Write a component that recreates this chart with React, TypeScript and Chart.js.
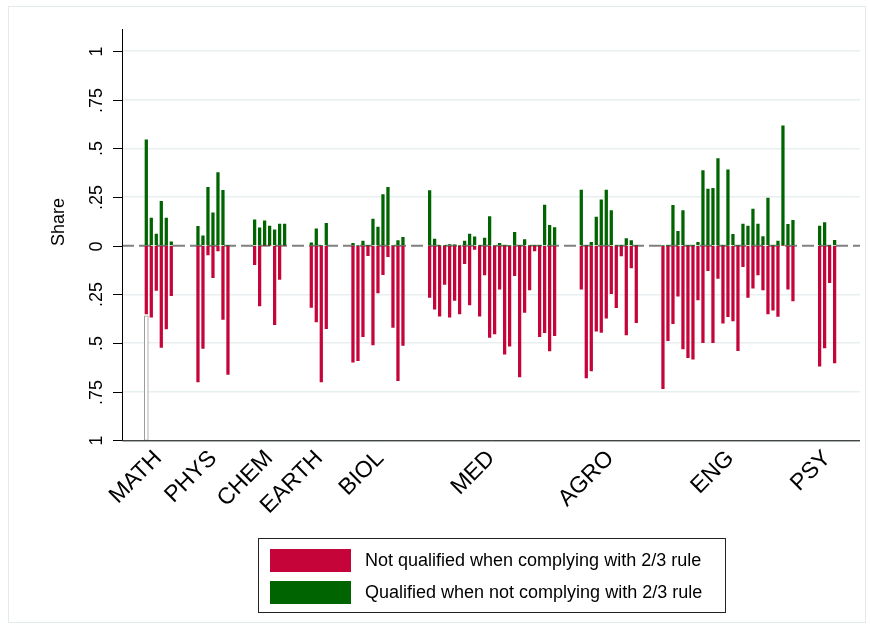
import React, { useEffect, useRef } from "react";
import { Chart, registerables } from "chart.js";

Chart.register(...registerables);

// ---- Data ----
const fields = ["MATH", "PHYS", "CHEM", "EARTH", "BIOL", "MED", "AGRO", "ENG", "PSY"];

// Share qualified when NOT complying with 2/3 rule (plotted upward)
const qualifiedMATH = [0.543, 0.142, 0.06, 0.228, 0.142, 0.019];
const qualifiedPHYS = [0.099, 0.051, 0.3, 0.168, 0.375, 0.284, 0];
const qualifiedCHEM = [0.132, 0.091, 0.127, 0.101, 0.081, 0.111, 0.111];
const qualifiedEARTH = [0.015, 0.086, 0, 0.115];
const qualifiedBIOL = [0.012, 0, 0.024, 0, 0.137, 0.096, 0.262, 0.3, 0, 0.026, 0.043];
const qualifiedMED = [
  0.283, 0.034, 0, 0, 0.005, 0.003, 0, 0.024, 0.06, 0.045, 0, 0.039, 0.149,
  0, 0.012, 0, 0, 0.069, 0, 0.031, 0, 0, 0, 0.209, 0.105, 0.093,
];
const qualifiedAGRO = [0.286, 0, 0.017, 0.147, 0.235, 0.286, 0.18, 0, 0, 0.036, 0.026, 0];
const qualifiedENG = [
  0, 0, 0.207, 0.074, 0.18, 0, 0, 0.017, 0.386, 0.291, 0.295, 0.447, 0, 0.389,
  0.058, 0, 0.111, 0.101, 0.188, 0.111, 0.046, 0.245, 0, 0.024, 0.615, 0.11, 0.13,
];
const qualifiedPSY = [0.101, 0.118, 0, 0.027];

// Share NOT qualified when complying with 2/3 rule (plotted downward)
const notQualifiedMATH = [0.351, 0.368, 0.23, 0.523, 0.428, 0.257];
const notQualifiedPHYS = [0.7, 0.528, 0.048, 0.165, 0.027, 0.379, 0.661];
const notQualifiedCHEM = [0.098, 0.31, 0, 0, 0.406, 0.173, 0];
const notQualifiedEARTH = [0.317, 0.392, 0.7, 0.427];
const notQualifiedBIOL = [0.598, 0.591, 0.468, 0.051, 0.51, 0.243, 0.149, 0.057, 0.42, 0.694, 0.512];
const notQualifiedMED = [
  0.266, 0.326, 0.362, 0.199, 0.368, 0.281, 0.351, 0.093, 0.305, 0.019, 0.362, 0.151, 0.471,
  0.454, 0.223, 0.557, 0.516, 0.154, 0.675, 0.343, 0.228, 0.027, 0.468, 0.447, 0.541, 0.463,
];
const notQualifiedAGRO = [0.223, 0.679, 0.643, 0.44, 0.446, 0.372, 0.247, 0.319, 0.053, 0.459, 0.115, 0.396];
const notQualifiedENG = [
  0.735, 0.488, 0.401, 0.259, 0.531, 0.576, 0.583, 0.279, 0.499, 0.129, 0.499, 0.168, 0.398, 0.365,
  0.387, 0.54, 0.108, 0.266, 0.219, 0.151, 0.228, 0.351, 0.331, 0.363, 0, 0.224, 0.284,
];
const notQualifiedPSY = [0.619, 0.526, 0.19, 0.603];

// Extra grey (hollow) bar under the first MATH bar: [from, to]
const mathExtraRange = [-1, -0.36];

// Axis ticks
const yTickValues = [1, 0.75, 0.5, 0.25, 0, -0.25, -0.5, -0.75, -1];
const yTickLabels = ["1", ".75", ".5", ".25", "0", ".25", ".5", ".75", "1"];
// x-label anchor positions (in bar-slot units)
const xLabelPositions = [3.3, 14.3, 25.5, 35.5, 47.7, 69.9, 93.7, 117.7, 137.1];

const legendLabels = [
  "Not qualified when complying with 2/3 rule",
  "Qualified when not complying with 2/3 rule",
];

// ---- Styles ----
const RED = "#C5053A";
const GREEN = "#006400";
const FONT = '"Liberation Sans", Arial, Helvetica, sans-serif';
const GROUP_GAP = 4.333;

const qualifiedByField = [
  qualifiedMATH, qualifiedPHYS, qualifiedCHEM, qualifiedEARTH, qualifiedBIOL,
  qualifiedMED, qualifiedAGRO, qualifiedENG, qualifiedPSY,
];
const notQualifiedByField = [
  notQualifiedMATH, notQualifiedPHYS, notQualifiedCHEM, notQualifiedEARTH, notQualifiedBIOL,
  notQualifiedMED, notQualifiedAGRO, notQualifiedENG, notQualifiedPSY,
];

function buildSeries() {
  const green: { x: number; y: number }[] = [];
  const red: { x: number; y: number }[] = [];
  let cum = 0;
  qualifiedByField.forEach((arr, g) => {
    arr.forEach((v, i) => {
      const x = cum + i + g * GROUP_GAP;
      green.push({ x, y: v });
      red.push({ x, y: -notQualifiedByField[g][i] });
    });
    cum += arr.length;
  });
  return { green, red };
}

const decorPlugin = {
  id: "decor",
  beforeDraw(chart: any) {
    const ctx = chart.ctx;
    ctx.save();
    ctx.fillStyle = "#ffffff";
    ctx.fillRect(0, 0, chart.width, chart.height);
    ctx.strokeStyle = "#E3EAEC";
    ctx.lineWidth = 1;
    ctx.strokeRect(8.5, 6.5, 857, 616);
    ctx.restore();
  },
  beforeDatasetsDraw(chart: any) {
    const ctx = chart.ctx;
    const { left, right } = chart.chartArea;
    const y0 = chart.scales.y.getPixelForValue(0);
    ctx.save();
    ctx.strokeStyle = "#808080";
    ctx.lineWidth = 2;
    ctx.setLineDash([12, 5]);
    ctx.beginPath();
    ctx.moveTo(left, y0);
    ctx.lineTo(right, y0);
    ctx.stroke();
    ctx.restore();
  },
  afterDraw(chart: any) {
    const ctx = chart.ctx;
    const { left, right, top, bottom } = chart.chartArea;
    const ys = chart.scales.y;
    const xs = chart.scales.x;
    ctx.save();
    // axes
    ctx.strokeStyle = "#000000";
    ctx.lineWidth = 1;
    ctx.beginPath();
    ctx.moveTo(left + 0.5, top);
    ctx.lineTo(left + 0.5, bottom + 0.5);
    ctx.lineTo(right, bottom + 0.5);
    ctx.stroke();
    // y ticks + labels
    ctx.fillStyle = "#000000";
    ctx.font = `18px ${FONT}`;
    yTickValues.forEach((v, i) => {
      const py = Math.round(ys.getPixelForValue(v)) + 0.5;
      ctx.beginPath();
      ctx.moveTo(left - 9, py);
      ctx.lineTo(left, py);
      ctx.stroke();
      ctx.save();
      ctx.translate(left - 20, py);
      ctx.rotate(-Math.PI / 2);
      ctx.textAlign = "center";
      ctx.textBaseline = "alphabetic";
      ctx.fillText(yTickLabels[i], 0, 0);
      ctx.restore();
    });
    // y title
    ctx.save();
    ctx.translate(64, 222);
    ctx.rotate(-Math.PI / 2);
    ctx.textAlign = "center";
    ctx.textBaseline = "alphabetic";
    ctx.fillText("Share", 0, 0);
    ctx.restore();
    // x labels
    ctx.font = `23px ${FONT}`;
    fields.forEach((f, i) => {
      const px = xs.getPixelForValue(xLabelPositions[i]);
      ctx.save();
      ctx.translate(px, bottom + 19);
      ctx.rotate(-Math.PI / 4);
      ctx.textAlign = "right";
      ctx.textBaseline = "alphabetic";
      ctx.fillText(f, 0, 0);
      ctx.restore();
    });
    // legend
    ctx.font = `18px ${FONT}`;
    ctx.strokeStyle = "#222222";
    ctx.strokeRect(258.5, 538.5, 467, 74);
    const swatchColors = [RED, GREEN];
    swatchColors.forEach((c, i) => {
      const sy = 549 + i * 32;
      ctx.fillStyle = c;
      ctx.fillRect(270, sy, 81, 23);
      ctx.fillStyle = "#000000";
      ctx.textAlign = "left";
      ctx.textBaseline = "middle";
      ctx.fillText(legendLabels[i], 365, sy + 12);
    });
    ctx.restore();
  },
};

export default function App() {
  const canvasRef = useRef<HTMLCanvasElement | null>(null);

  useEffect(() => {
    const canvas = canvasRef.current;
    if (!canvas) return;
    const { green, red } = buildSeries();
    const chart = new Chart(canvas, {
      type: "bar",
      data: {
        datasets: [
          {
            label: legendLabels[1],
            data: green,
            backgroundColor: GREEN,
            borderWidth: 0,
            barThickness: 2.6,
            grouped: false,
          } as any,
          {
            label: legendLabels[0],
            data: red,
            backgroundColor: RED,
            borderWidth: 0,
            barThickness: 2.6,
            grouped: false,
          } as any,
          {
            label: "extra",
            data: [{ x: 0, y: mathExtraRange }],
            backgroundColor: "#FFFFFF",
            borderColor: "#9A9A9A",
            borderWidth: 1,
            borderSkipped: false,
            barThickness: 4,
            grouped: false,
          } as any,
        ],
      },
      options: {
        responsive: false,
        animation: false,
        devicePixelRatio: 1,
        layout: { padding: { left: 122, right: 10, top: 29, bottom: 189.7 } },
        plugins: {
          legend: { display: false },
          tooltip: { enabled: false },
        },
        scales: {
          x: {
            type: "linear",
            display: false,
            min: -4.86,
            max: 142.74,
            offset: false,
          },
          y: {
            type: "linear",
            min: -1,
            max: 1.113,
            display: true,
            border: { display: false },
            ticks: { display: false },
            afterBuildTicks: (scale: any) => {
              scale.ticks = yTickValues.map((v) => ({ value: v }));
            },
            grid: {
              drawTicks: false,
              lineWidth: 1.5,
              color: (ctx: any) =>
                ctx.tick && ctx.tick.value === 0 ? "rgba(0,0,0,0)" : "#E8EFF1",
            },
          },
        },
      },
      plugins: [decorPlugin],
    });
    return () => chart.destroy();
  }, []);

  return (
    <div style={{ position: "fixed", left: 0, top: 0, width: 870, height: 630 }}>
      <canvas ref={canvasRef} width={870} height={630} style={{ display: "block" }} />
    </div>
  );
}
